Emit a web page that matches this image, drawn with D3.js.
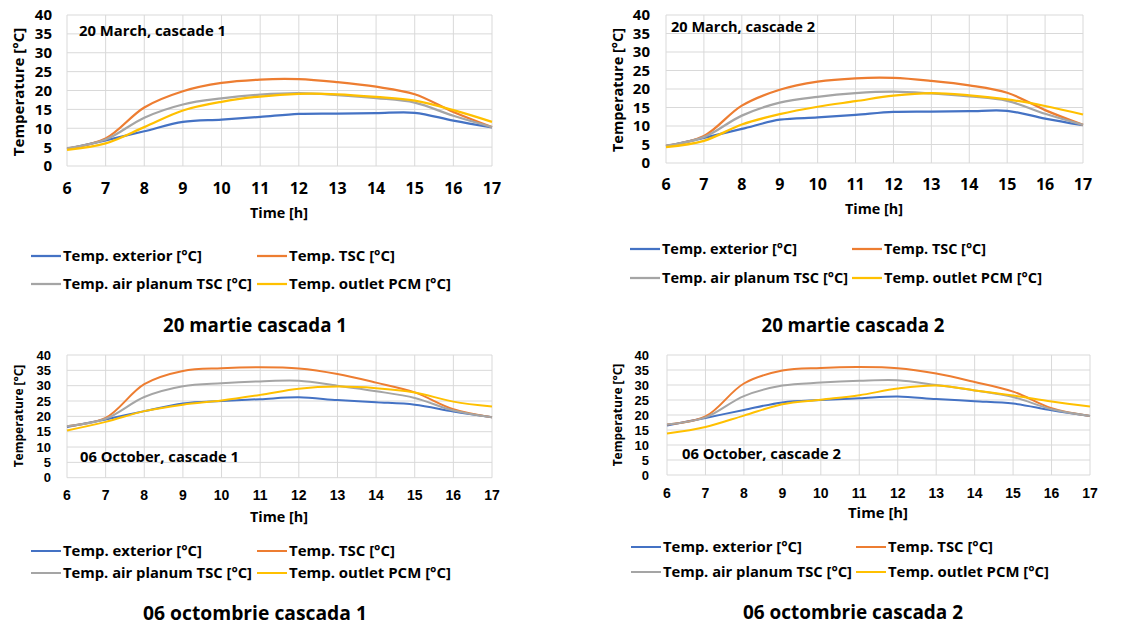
<!DOCTYPE html>
<html>
<head>
<meta charset="utf-8">
<script src="https://cdn.jsdelivr.net/npm/d3@7"></script>
<style>
  body { margin: 0; background: #fff; }
  text { font-family: "Open Sans", "Liberation Sans", sans-serif; font-weight: bold; fill: #000; }
</style>
</head>
<body>
<svg id="chart" width="1145" height="628"></svg>
<script>
// hours on the x axis
var hours = [6, 7, 8, 9, 10, 11, 12, 13, 14, 15, 16, 17];
var yTicks = [0, 5, 10, 15, 20, 25, 30, 35, 40];

// 20 March
var marExterior = [4.5, 6.8, 9.2, 11.7, 12.3, 13.0, 13.8, 13.9, 14.0, 14.1, 12.0, 10.2];
var marTSC      = [4.6, 7.3, 15.5, 19.8, 22.0, 22.9, 23.0, 22.2, 21.0, 19.0, 14.3, 10.3];
var marPlanum   = [4.7, 7.0, 12.8, 16.3, 17.9, 18.9, 19.3, 18.8, 18.0, 16.8, 13.3, 10.3];
var mar1Outlet  = [4.3, 6.0, 10.3, 14.7, 17.0, 18.4, 19.1, 19.0, 18.3, 17.3, 14.8, 11.7];
var mar2Outlet  = [4.3, 6.0, 10.4, 13.2, 15.2, 16.7, 18.2, 18.9, 18.3, 17.2, 15.4, 13.1];

// 06 October
var octExterior = [16.5, 19.0, 21.7, 24.2, 25.0, 25.6, 26.2, 25.3, 24.6, 23.8, 21.6, 19.7];
var octTSC      = [16.8, 19.5, 30.5, 34.8, 35.7, 36.0, 35.6, 33.8, 31.0, 27.8, 22.3, 19.7];
var octPlanum   = [16.8, 19.2, 26.3, 29.8, 30.8, 31.4, 31.6, 30.0, 28.2, 26.0, 21.9, 19.7];
var oct1Outlet  = [15.4, 18.2, 21.7, 23.8, 25.2, 27.0, 29.0, 29.7, 29.2, 27.8, 24.8, 23.2];
var oct2Outlet  = [13.8, 16.0, 19.8, 23.6, 25.1, 26.6, 28.8, 29.8, 28.2, 26.5, 24.5, 22.8];

var seriesNames = ["Temp. exterior [°C]", "Temp. TSC [°C]", "Temp. air planum TSC [°C]", "Temp. outlet PCM [°C]"];
var seriesColors = ["#4472C4", "#ED7D31", "#A5A5A5", "#FFC000"];

var panels = [
  { series: [marExterior, marTSC, marPlanum, mar1Outlet],
    note: "20 March, cascade 1", caption: "20 martie cascada 1",
    x0: 67, x1: 492, yb: 166, yt: 15, tickSize: 15, tickFont: "Open Sans", tickEnd: 52, xTickY: 188,
    yTitle: [19, 92, 15], xTitle: [279, 213, 58], noteAt: [79, 31, 147],
    legRows: [256, 284], legCols: [31, 257], legW: [139, 106, 189, 162],
    capAt: [255, 325, 184], lw: 2.25 },
  { series: [marExterior, marTSC, marPlanum, mar2Outlet],
    note: "20 March, cascade 2", caption: "20 martie cascada 2",
    x0: 666, x1: 1083, yb: 163, yt: 15, tickSize: 15, tickFont: "Open Sans", tickEnd: 650, xTickY: 184,
    yTitle: [618, 90, 14.5], xTitle: [874, 209, 58], noteAt: [671, 27, 144],
    legRows: [249, 278], legCols: [630, 852], legW: [135, 102, 186, 158],
    capAt: [853, 325, 183], lw: 2.25 },
  { series: [octExterior, octTSC, octPlanum, oct1Outlet],
    note: "06 October, cascade 1", caption: "06 octombrie  cascada 1",
    x0: 67, x1: 492, yb: 477.7, yt: 355, tickSize: 13, tickFont: "Liberation Sans", tickEnd: 51, xTickY: 495,
    yTitle: [19, 416, 12], xTitle: [279, 517, 58], noteAt: [80, 457, 159],
    legRows: [551, 573], legCols: [31, 257], legW: [139, 106, 189, 162],
    capAt: [255, 613, 224], lw: 2 },
  { series: [octExterior, octTSC, octPlanum, oct2Outlet],
    note: "06 October, cascade 2", caption: "06 octombrie  cascada 2",
    x0: 667, x1: 1090, yb: 475, yt: 355, tickSize: 13, tickFont: "Liberation Sans", tickEnd: 649, xTickY: 493,
    yTitle: [618, 415, 12], xTitle: [878, 513, 60], noteAt: [682, 454, 159],
    legRows: [547, 572], legCols: [631, 856], legW: [139, 105, 189, 161],
    capAt: [853, 612, 220], lw: 2 }
];

var svg = d3.select("#chart");

panels.forEach(function(p) {
  var g = svg.append("g");
  var x = d3.scaleLinear().domain([6, 17]).range([p.x0, p.x1]);
  var y = d3.scaleLinear().domain([0, 40]).range([p.yb, p.yt]);

  // grid
  g.selectAll(".hg").data(yTicks).enter().append("line")
    .attr("x1", p.x0).attr("x2", p.x1)
    .attr("y1", function(d) { return y(d); }).attr("y2", function(d) { return y(d); })
    .style("stroke", "#d9d9d9").style("stroke-width", 1);
  g.selectAll(".vg").data(hours).enter().append("line")
    .attr("x1", function(d) { return x(d); }).attr("x2", function(d) { return x(d); })
    .attr("y1", p.yb).attr("y2", p.yt)
    .style("stroke", "#d9d9d9").style("stroke-width", 1);

  // tick labels
  g.selectAll(".yt").data(yTicks).enter().append("text")
    .attr("x", p.tickEnd).attr("y", function(d) { return y(d); })
    .attr("dy", "0.36em").attr("text-anchor", "end")
    .style("font-family", p.tickFont)
    .style("font-size", p.tickSize + "px")
    .text(function(d) { return d; });
  g.selectAll(".xt").data(hours).enter().append("text")
    .attr("x", function(d) { return x(d); }).attr("y", p.xTickY)
    .attr("dy", "0.36em").attr("text-anchor", "middle")
    .style("font-family", p.tickFont)
    .style("font-size", (p.tickSize + 1) + "px")
    .text(function(d) { return d; });

  // axis titles
  g.append("g")
    .attr("transform", "translate(" + p.yTitle[0] + "," + p.yTitle[1] + ") rotate(-90)")
    .append("text")
    .attr("text-anchor", "middle").attr("dy", "0.36em")
    .style("font-size", p.yTitle[2] + "px")
    .text("Temperature [°C]");
  g.append("text")
    .attr("x", p.xTitle[0]).attr("y", p.xTitle[1]).attr("dy", "0.36em")
    .attr("text-anchor", "middle")
    .attr("textLength", p.xTitle[2]).attr("lengthAdjust", "spacingAndGlyphs")
    .style("font-size", "14px")
    .text("Time [h]");

  // lines
  var line = d3.line()
    .x(function(d, i) { return x(hours[i]); })
    .y(function(d) { return y(d); })
    .curve(d3.curveCatmullRom.alpha(0.5));
  p.series.forEach(function(s, k) {
    g.append("path").datum(s)
      .attr("d", line)
      .style("fill", "none")
      .style("stroke", seriesColors[k])
      .style("stroke-width", p.lw);
  });

  // note inside plot
  g.append("text")
    .attr("x", p.noteAt[0]).attr("y", p.noteAt[1]).attr("dy", "0.36em")
    .attr("textLength", p.noteAt[2]).attr("lengthAdjust", "spacingAndGlyphs")
    .style("font-size", "14px")
    .text(p.note);

  // legend
  seriesNames.forEach(function(name, k) {
    var lx = p.legCols[k % 2], ly = p.legRows[Math.floor(k / 2)];
    g.append("line")
      .attr("x1", lx).attr("x2", lx + 30).attr("y1", ly).attr("y2", ly)
      .style("stroke", seriesColors[k]).style("stroke-width", p.lw);
    g.append("text")
      .attr("x", lx + 32).attr("y", ly).attr("dy", "0.36em")
      .attr("textLength", p.legW[k]).attr("lengthAdjust", "spacingAndGlyphs")
      .style("font-size", "14px")
      .text(name);
  });

  // caption under the chart
  g.append("text")
    .attr("x", p.capAt[0]).attr("y", p.capAt[1]).attr("dy", "0.36em")
    .attr("text-anchor", "middle")
    .attr("textLength", p.capAt[2]).attr("lengthAdjust", "spacingAndGlyphs")
    .style("font-size", "20px")
    .text(p.caption);
});
</script>
</body>
</html>
